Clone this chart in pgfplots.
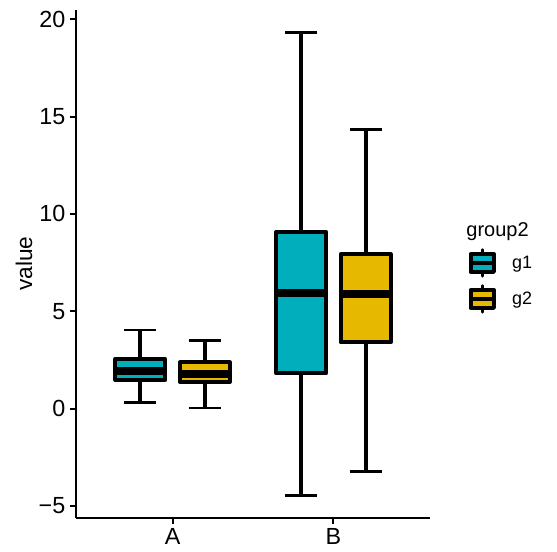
\documentclass[border=0pt]{standalone}
\usepackage{fontspec}
\setmainfont{Liberation Sans}
\usepackage{pgfplots}
\usepgfplotslibrary{statistics}
\pgfplotsset{compat=1.18}
\definecolor{gone}{HTML}{00AFBB}
\definecolor{gtwo}{HTML}{E7B800}

\pgfplotsset{
  ggbox/.style={
    boxplot/draw direction=y,
    boxplot/box extend=0.31,
    boxplot/whisker extend=0.2,
    boxplot/every box/.style={draw=black, line width=3pt, line join=round},
    boxplot/every median/.style={draw=black, line width=6pt},
    boxplot/draw/lower whisker/.code={%
      \draw[black, line width=3pt] (boxplot box cs:\pgfplotsboxplotvalue{lower whisker},0.5) -- (boxplot box cs:\pgfplotsboxplotvalue{lower quartile},0.5);
      \draw[black, line width=2pt] (boxplot whisker cs:\pgfplotsboxplotvalue{lower whisker},0) -- (boxplot whisker cs:\pgfplotsboxplotvalue{lower whisker},1);
    },
    boxplot/draw/upper whisker/.code={%
      \draw[black, line width=3pt] (boxplot box cs:\pgfplotsboxplotvalue{upper whisker},0.5) -- (boxplot box cs:\pgfplotsboxplotvalue{upper quartile},0.5);
      \draw[black, line width=2pt] (boxplot whisker cs:\pgfplotsboxplotvalue{upper whisker},0) -- (boxplot whisker cs:\pgfplotsboxplotvalue{upper whisker},1);
    },
  },
}

\begin{document}
\begin{tikzpicture}
\begin{axis}[
  scale only axis,
  width=265.5pt, height=381pt,
  xmin=0.4, xmax=2.6,
  ymin=-5.6, ymax=20.49,
  axis x line*=bottom, axis y line*=left,
  axis line style={-, line width=1.5pt, black},
  tick align=outside,
  major tick length=4.5pt,
  tick style={line width=1.5pt, black},
  xtick={1,2}, xticklabels={A,B},
  ytick={-5,0,5,10,15,20}, yticklabels={−5,0,5,10,15,20},
  ticklabel style={font=\fontsize{17.5}{17.5}\selectfont},
  ylabel={value},
  every axis y label/.style={at={(axis description cs:-0.147,0.5)}, rotate=90, anchor=center, font=\fontsize{17}{17}\selectfont},
  clip=false,
  legend style={at={(axis description cs:1.108,0.466)}, anchor=west, draw=none, fill=none,
    inner sep=0pt, outer sep=0pt, font=\fontsize{13.5}{15}\selectfont, row sep=5pt,
    /tikz/every odd column/.append style={column sep=10pt}},
  legend cell align=left,
]

% group A
\addplot[forget plot, ggbox, fill=gone, draw=black,
  boxplot prepared={draw position=0.8,
    lower whisker=0.30, lower quartile=1.47, median=1.93,
    upper quartile=2.55, upper whisker=4.03}] coordinates {};
\addplot[forget plot, ggbox, fill=gtwo, draw=black,
  boxplot prepared={draw position=1.2,
    lower whisker=0.03, lower quartile=1.37, median=1.78,
    upper quartile=2.37, upper whisker=3.49}] coordinates {};
% group B
\addplot[forget plot, ggbox, fill=gone, draw=black,
  boxplot prepared={draw position=1.8,
    lower whisker=-4.45, lower quartile=1.81, median=5.95,
    upper quartile=9.08, upper whisker=19.33}] coordinates {};
\addplot[forget plot, ggbox, fill=gtwo, draw=black,
  boxplot prepared={draw position=2.2,
    lower whisker=-3.24, lower quartile=3.40, median=5.90,
    upper quartile=7.92, upper whisker=14.35}] coordinates {};

\addlegendimage{legend image code/.code={
  \draw[black, line width=2pt, line cap=round] (8.75pt,-10pt) -- (8.75pt,10pt);
  \draw[fill=gone, draw=black, line width=3pt, line join=round] (0pt,-6.75pt) rectangle (17.5pt,6.75pt);
  \draw[black, line width=3.5pt] (0pt,0pt) -- (17.5pt,0pt);
}}
\addlegendentry{g1}
\addlegendimage{legend image code/.code={
  \draw[black, line width=2pt, line cap=round] (8.75pt,-10pt) -- (8.75pt,10pt);
  \draw[fill=gtwo, draw=black, line width=3pt, line join=round] (0pt,-6.75pt) rectangle (17.5pt,6.75pt);
  \draw[black, line width=3.5pt] (0pt,0pt) -- (17.5pt,0pt);
}}
\addlegendentry{g2}

\node[anchor=base west, font=\fontsize{15}{15}\selectfont, inner sep=0pt]
  at (axis description cs:1.102,0.553) {group2};
\end{axis}
\path (current axis.south west) ++(-57pt,-25pt) rectangle ++(417.75pt,413.25pt);
\end{tikzpicture}
\end{document}
